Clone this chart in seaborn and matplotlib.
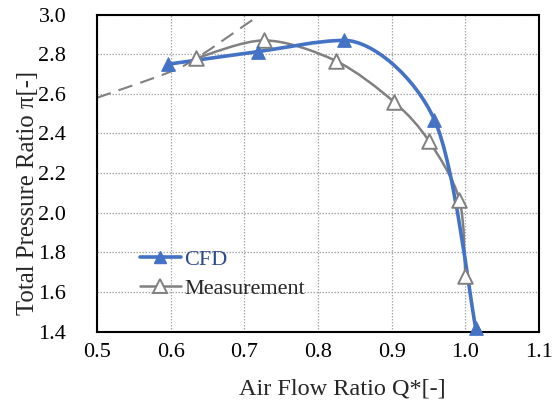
import numpy as np
import pandas as pd
import matplotlib
matplotlib.use("Agg")
import matplotlib.pyplot as plt
import seaborn as sns
from matplotlib.path import Path
from matplotlib.patches import PathPatch
from matplotlib.lines import Line2D

# ---- data ----
cfd_q = [0.597, 0.718, 0.836, 0.958, 1.014]
cfd_pi = [2.75, 2.813, 2.870, 2.47, 1.42]
meas_q = [0.635, 0.727, 0.824, 0.903, 0.951, 0.992, 1.000]
meas_pi = [2.78, 2.87, 2.767, 2.56, 2.36, 2.065, 1.68]
surge_q = [0.500, 0.600, 0.640, 0.700, 0.722]
surge_pi = [2.580, 2.712, 2.792, 2.945, 3.000]
x_ticks = [0.5, 0.6, 0.7, 0.8, 0.9, 1.0, 1.1]
y_ticks = [1.4, 1.6, 1.8, 2.0, 2.2, 2.4, 2.6, 2.8, 3.0]
x_labels = ["0.5", "0.6", "0.7", "0.8", "0.9", "1.0", "1.1"]
y_labels = ["1.4", "1.6", "1.8", "2.0", "2.2", "2.4", "2.6", "2.8", "3.0"]

BLUE = "#4472C4"
GRAY = "#808080"

sns.set_theme(style="white")
plt.rcParams["font.family"] = ["Liberation Serif", "DejaVu Serif"]

fig = plt.figure(figsize=(5.6, 4.07), dpi=100)
ax = fig.add_axes([0.173, 0.1855, 0.7895, 0.7785])
ax.set_xlim(0.5, 1.1)
ax.set_ylim(1.4, 3.0)

# pixel-ish scale for smooth (Excel-like) curve construction
SX = 442 / 0.6
SY = 317 / 1.6


def smooth_path(xs, ys, k=6.5):
    P = np.column_stack([np.asarray(xs) * SX, np.asarray(ys) * SY])
    n = len(P)
    T = []
    for i in range(n):
        p0 = P[i - 1] if i > 0 else P[i]
        p2 = P[i + 1] if i < n - 1 else P[i]
        m = (p2 - p0).astype(float)
        if 0 < i < n - 1 and (P[i, 1] - P[i - 1, 1]) * (P[i + 1, 1] - P[i, 1]) <= 0:
            m[1] = 0.0  # flat tangent at a local peak
        T.append(m)
    verts = [P[0]]
    codes = [Path.MOVETO]
    for i in range(n - 1):
        c1 = P[i] + T[i] / k
        c2 = P[i + 1] - T[i + 1] / k
        verts += [c1, c2, P[i + 1]]
        codes += [Path.CURVE4] * 3
    V = np.array(verts)
    V[:, 0] /= SX
    V[:, 1] /= SY
    return Path(V, codes)


# grid
ax.set_xticks(x_ticks)
ax.set_yticks(y_ticks)
ax.set_xticklabels(x_labels)
ax.set_yticklabels(y_labels)
ax.grid(True, color="#A6A6A6", linestyle=(0, (1.2, 1.2)), linewidth=0.9)
ax.set_axisbelow(True)

# surge line (dashed)
ax.add_patch(PathPatch(smooth_path(surge_q, surge_pi), facecolor="none",
                       edgecolor=GRAY, linewidth=1.5, linestyle=(0, (7, 4)),
                       zorder=2))

# smooth curves
ax.add_patch(PathPatch(smooth_path(meas_q, meas_pi), facecolor="none",
                       edgecolor=GRAY, linewidth=1.8, zorder=3))
ax.add_patch(PathPatch(smooth_path(cfd_q, cfd_pi), facecolor="none",
                       edgecolor=BLUE, linewidth=2.6, zorder=4))

# markers
df_c = pd.DataFrame({"q": cfd_q, "pi": cfd_pi})
df_m = pd.DataFrame({"q": meas_q, "pi": meas_pi})
sns.scatterplot(data=df_m, x="q", y="pi", ax=ax, marker="^", s=110,
                facecolor="white", edgecolor=GRAY, linewidth=1.4,
                zorder=5, clip_on=False, legend=False)
sns.scatterplot(data=df_c, x="q", y="pi", ax=ax, marker="^", s=95,
                color=BLUE, edgecolor=BLUE, linewidth=0.8,
                zorder=6, clip_on=False, legend=False)

# spines and ticks
for s in ax.spines.values():
    s.set_color("black")
    s.set_linewidth(1.5)
ax.tick_params(axis="both", direction="in", length=4, width=0.8,
               labelsize=16, colors="black", pad=8)
ax.tick_params(axis="y", length=0, pad=22)

ax.set_xlabel("Air Flow Ratio Q*[-]", fontsize=17.5)
ax.set_ylabel("Total Pressure Ratio \u03c0[-]", fontsize=17.8)
ax.xaxis.set_label_coords(0.554, -0.148)
ax.yaxis.set_label_coords(-0.132, 0.437)

handles = [
    Line2D([], [], color=BLUE, linewidth=2.6, marker="^", markersize=9,
           markerfacecolor=BLUE, markeredgecolor=BLUE),
    Line2D([], [], color=GRAY, linewidth=1.8, marker="^", markersize=10,
           markerfacecolor="white", markeredgecolor=GRAY, markeredgewidth=1.4),
]
leg = ax.legend(handles, ["CFD", "Measurement"], loc="upper left",
                bbox_to_anchor=(0.072, 0.295), frameon=False, fontsize=16,
                handlelength=1.85, handletextpad=0.15, labelspacing=0.4,
                borderpad=0)
leg.get_texts()[0].set_color("#2F4B86")

fig.savefig("out.png", dpi=100)
